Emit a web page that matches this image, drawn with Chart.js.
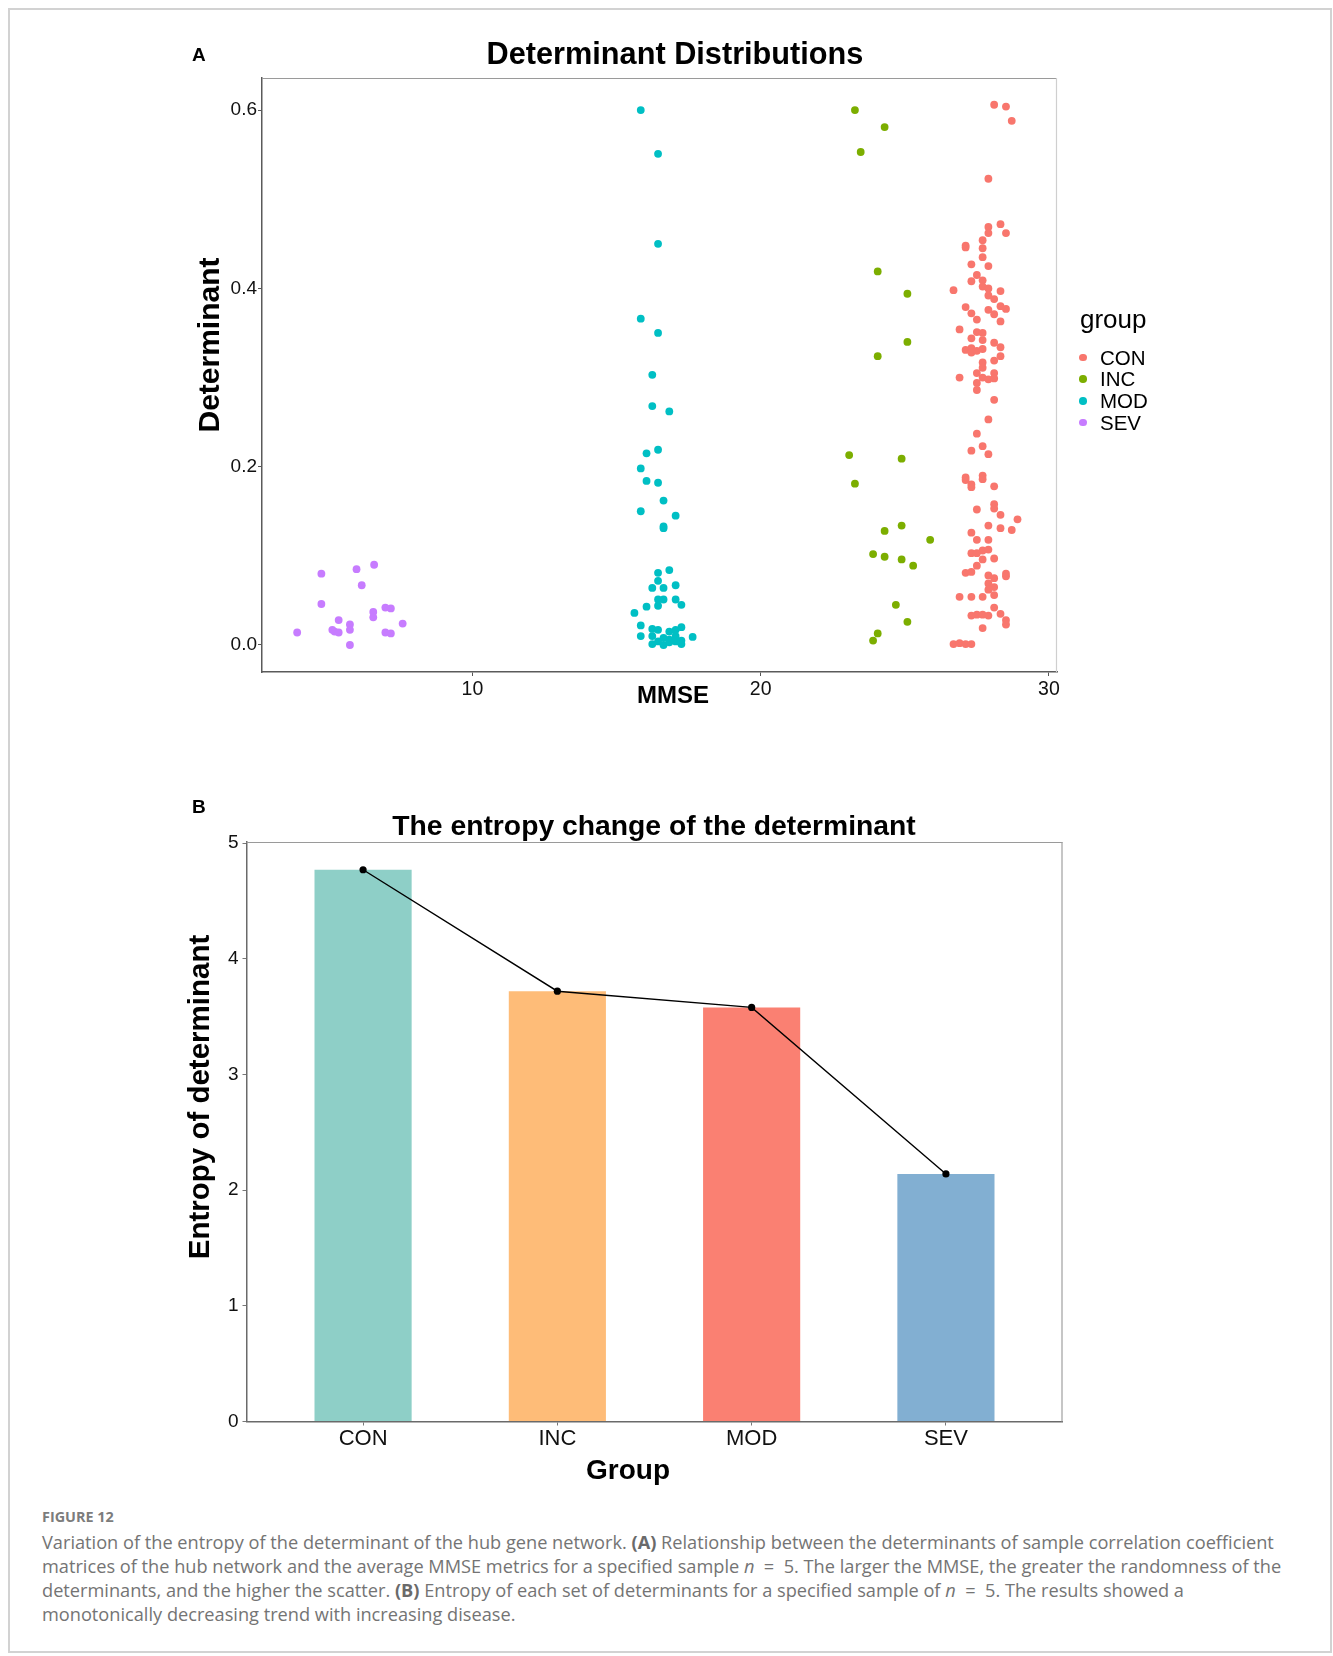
<!DOCTYPE html>
<html>
<head>
<meta charset="utf-8">
<script src="https://cdn.jsdelivr.net/npm/chart.js@4.4.1/dist/chart.umd.min.js"></script>
<style>
  html, body { margin: 0; padding: 0; background: #fff; }
  body { width: 1333px; height: 1656px; position: relative; overflow: hidden;
         font-family: 'Liberation Sans', Arial, sans-serif; color: #000; }
  .frame { position: absolute; left: 8px; top: 8px; width: 1324px; height: 1645px;
           border: 2px solid #d2d2d2; box-sizing: border-box; }
  canvas { position: absolute; left: 0; }
  .t { position: absolute; white-space: nowrap; line-height: 1; transform: translate(-50%, -50%); }
  .b { font-weight: bold; }
  .rot { transform: translate(-50%, -50%) rotate(-90deg); }
  .tag { position: absolute; font-weight: bold; font-size: 19px; line-height: 1; transform: translateY(-50%); }
  .legend { position: absolute; left: 1080px; top: 300px; }
  .legend .ttl { position: absolute; left: 0; top: 19px; font-size: 26px; line-height: 1; transform: translateY(-50%); white-space: nowrap; }
  .legend .item { position: absolute; left: 0; height: 0; }
  .legend .dot { position: absolute; left: -0.6px; top: -3.8px; width: 7.6px; height: 7.6px; border-radius: 50%; }
  .legend .lab { position: absolute; left: 20px; top: 0; font-size: 20.5px; line-height: 1; transform: translateY(-50%); white-space: nowrap; }
  .cap { position: absolute; left: 42px; white-space: nowrap; color: #747474;
         font-family: 'Open Sans', 'Noto Sans', sans-serif; line-height: 1; transform: translateY(-50%); }
  .cap.head { font-weight: bold; font-size: 14.4px; color: #7c7c7c; }
  .cap.line { font-size: 18.2px; }
  .cap b { color: #6a6a6a; }
</style>
</head>
<body>
<div class="frame"></div>

<canvas id="scatterA" width="1333" height="720" style="top:0"></canvas>
<canvas id="barB" width="1333" height="720" style="top:760px"></canvas>

<div class="tag" style="left:192px; top:54px">A</div>
<div class="t b" style="left:675px; top:54px; font-size:30.7px">Determinant Distributions</div>
<div class="t b rot" style="left:209px; top:345px; font-size:30px">Determinant</div>
<div class="t b" style="left:673px; top:695px; font-size:24px">MMSE</div>
<div class="legend" id="legendA"><div class="ttl">group</div></div>

<div class="tag" style="left:192px; top:806px">B</div>
<div class="t b" style="left:654px; top:825px; font-size:28.3px">The entropy change of the determinant</div>
<div class="t b rot" style="left:199px; top:1097px; font-size:29.5px">Entropy of determinant</div>
<div class="t b" style="left:628px; top:1470px; font-size:28px">Group</div>

<div class="cap head" style="top:1517px">FIGURE 12</div>
<div class="cap line" style="top:1542px">Variation of the entropy of the determinant of the hub gene network. <b>(A)</b> Relationship between the determinants of sample correlation coefficient</div>
<div class="cap line" style="top:1566px">matrices of the hub network and the average MMSE metrics for a specified sample <i>n</i> &nbsp;=&nbsp; 5. The larger the MMSE, the greater the randomness of the</div>
<div class="cap line" style="top:1590px">determinants, and the higher the scatter. <b>(B)</b> Entropy of each set of determinants for a specified sample of <i>n</i> &nbsp;=&nbsp; 5. The results showed a</div>
<div class="cap line" style="top:1614px">monotonically decreasing trend with increasing disease.</div>

<script>
// ---- Panel A: determinant vs. MMSE, one [MMSE, determinant] pair per sample ----
const groupNames = ['CON', 'INC', 'MOD', 'SEV'];
const groupColors = ['#F8766D', '#7CAE00', '#00BFC4', '#C77CFF'];

const conPoints = [
  [28.10,0.606],[28.51,0.604],[28.71,0.588],[27.90,0.523],[27.90,0.469],[28.32,0.472],
  [28.51,0.462],[27.90,0.462],[27.70,0.454],[27.11,0.448],[27.11,0.446],[27.70,0.445],
  [27.70,0.435],[27.31,0.427],[27.90,0.425],[27.50,0.415],[27.31,0.408],[27.70,0.409],
  [27.70,0.402],[27.90,0.400],[26.69,0.398],[28.32,0.397],[27.90,0.392],[28.10,0.388],
  [27.11,0.379],[28.32,0.380],[28.51,0.377],[27.90,0.376],[27.31,0.372],[28.10,0.371],
  [27.50,0.365],[28.32,0.363],[26.90,0.354],[27.50,0.351],[27.70,0.350],[27.31,0.344],
  [27.70,0.342],[28.10,0.339],[27.11,0.331],[27.31,0.333],[27.31,0.328],[27.50,0.330],
  [27.70,0.332],[28.32,0.334],[28.10,0.319],[27.70,0.317],[27.70,0.311],[28.32,0.324],
  [27.50,0.305],[28.10,0.305],[26.90,0.300],[27.50,0.294],[27.70,0.300],[27.90,0.298],
  [28.10,0.299],[27.50,0.286],[28.10,0.275],[27.90,0.253],[27.50,0.237],[27.70,0.223],
  [27.31,0.218],[27.90,0.214],[27.11,0.188],[27.70,0.190],[27.11,0.185],[27.31,0.180],
  [27.31,0.177],[27.70,0.186],[28.10,0.178],[28.10,0.158],[27.50,0.152],[28.10,0.153],
  [28.32,0.146],[28.91,0.141],[27.31,0.126],[27.90,0.134],[28.32,0.131],[28.71,0.129],
  [27.50,0.118],[27.90,0.118],[27.31,0.103],[27.50,0.103],[27.70,0.106],[27.90,0.107],
  [28.10,0.097],[27.70,0.096],[27.50,0.089],[27.11,0.081],[27.31,0.082],[27.90,0.078],
  [28.51,0.080],[28.51,0.077],[28.10,0.075],[27.90,0.069],[28.10,0.065],[27.90,0.062],
  [26.90,0.054],[27.31,0.054],[27.70,0.054],[28.10,0.056],[28.10,0.042],[27.50,0.034],
  [27.70,0.034],[27.90,0.033],[27.31,0.033],[28.32,0.035],[27.70,0.019],[28.51,0.028],
  [28.51,0.023],[26.69,0.001],[26.90,0.002],[27.11,0.001],[27.31,0.001]
];

const incPoints = [
  [23.27,0.600],[24.30,0.581],[23.47,0.553],[24.06,0.419],[25.09,0.394],[25.09,0.340],
  [24.06,0.324],[23.07,0.213],[24.89,0.209],[23.27,0.181],[24.30,0.128],[24.89,0.134],
  [25.88,0.118],[23.90,0.102],[24.30,0.099],[24.89,0.096],[25.29,0.089],[24.69,0.045],
  [25.09,0.026],[24.06,0.013],[23.90,0.005]
];

const modPoints = [
  [15.84,0.600],[16.44,0.551],[16.44,0.450],[15.84,0.366],[16.44,0.350],[16.24,0.303],
  [16.24,0.268],[16.83,0.262],[16.04,0.215],[16.44,0.219],[15.84,0.198],[16.04,0.184],
  [16.44,0.182],[16.63,0.162],[15.84,0.150],[17.05,0.145],[16.63,0.133],[16.63,0.131],
  [16.44,0.081],[16.83,0.084],[16.44,0.072],[16.24,0.064],[16.63,0.064],[17.05,0.067],
  [16.44,0.051],[16.63,0.051],[17.05,0.051],[16.44,0.044],[16.04,0.043],[17.25,0.045],
  [15.62,0.036],[15.84,0.022],[15.84,0.010],[16.24,0.018],[16.44,0.017],[16.24,0.010],
  [16.63,0.008],[16.83,0.015],[17.05,0.017],[17.25,0.020],[17.64,0.009],[16.24,0.001],
  [16.44,0.004],[16.63,0.000],[16.83,0.006],[17.05,0.004],[17.25,0.005],[17.05,0.010],
  [16.83,0.003],[17.25,0.001]
];

const sevPoints = [
  [3.92,0.014],[4.76,0.080],[4.76,0.046],[5.14,0.017],[5.22,0.015],[5.36,0.014],
  [5.36,0.028],[5.75,0.023],[5.75,0.017],[5.75,0.000],[5.98,0.085],[6.16,0.067],
  [6.59,0.090],[6.56,0.037],[6.56,0.031],[6.98,0.042],[7.17,0.041],[6.98,0.014],
  [7.17,0.013],[7.58,0.024]
];

const mmseTicks = [10, 20, 30];
const determinantTicks = [0, 0.2, 0.4, 0.6];

// ---- Panel B: entropy of the determinant per group ----
const entropyGroups = ['CON', 'INC', 'MOD', 'SEV'];
const entropyValues = [4.77, 3.72, 3.58, 2.14];
const entropyColors = ['#8ECFC7', '#FEBC78', '#FA8072', '#82AFD2'];
const entropyTicks = [0, 1, 2, 3, 4, 5];

Chart.defaults.font.family = "'Liberation Sans', Arial, sans-serif";
Chart.defaults.color = '#111';

// Top and right edges of the panel box
const panelFrame = {
  id: 'panelFrame',
  afterDraw(chart, args, opts) {
    const { ctx, chartArea: a } = chart;
    ctx.save();
    ctx.lineWidth = opts.width;
    ctx.strokeStyle = opts.topColor;
    ctx.beginPath();
    ctx.moveTo(a.left, a.top + 0.5);
    ctx.lineTo(a.right, a.top + 0.5);
    ctx.stroke();
    ctx.strokeStyle = opts.rightColor;
    ctx.beginPath();
    ctx.moveTo(a.right - 0.5, a.top);
    ctx.lineTo(a.right - 0.5, a.bottom);
    ctx.stroke();
    ctx.restore();
  }
};

const toXY = pts => pts.map(([x, y]) => ({ x, y }));
const pointSets = [conPoints, incPoints, modPoints, sevPoints];

new Chart(document.getElementById('scatterA'), {
  type: 'scatter',
  data: {
    datasets: groupNames.map((name, i) => ({
      label: name,
      data: toXY(pointSets[i]),
      backgroundColor: groupColors[i],
      borderWidth: 0,
      pointRadius: 3.9,
      pointHoverRadius: 3.9
    }))
  },
  options: {
    responsive: false,
    animation: false,
    devicePixelRatio: 1,
    layout: { padding: { left: 202, right: 276, top: 78, bottom: 8 } },
    plugins: {
      legend: { display: false },
      tooltip: { enabled: false },
      panelFrame: { width: 1.2, topColor: '#9a9a9a', rightColor: '#cfcfcf' }
    },
    scales: {
      x: {
        type: 'linear',
        min: 2.70, max: 30.28,
        afterFit(s) { s.height = 40; },
        afterBuildTicks(s) { s.ticks = mmseTicks.map(v => ({ value: v })); },
        grid: { display: true, offset: false, drawOnChartArea: false, drawTicks: true, tickLength: 4, color: '#555' },
        border: { display: true, color: '#5a5a5a', width: 1.5 },
        ticks: { font: { size: 19.5 }, color: '#111', padding: 2, maxRotation: 0,
                 callback: v => String(v) }
      },
      y: {
        type: 'linear',
        min: -0.0303, max: 0.636,
        afterFit(s) { s.width = 60; },
        afterBuildTicks(s) { s.ticks = determinantTicks.map(v => ({ value: v })); },
        grid: { display: true, drawOnChartArea: false, drawTicks: true, tickLength: 4, color: '#555' },
        border: { display: true, color: '#5a5a5a', width: 1.5 },
        ticks: { font: { size: 19 }, color: '#111', padding: 1,
                 callback: v => Number(v).toFixed(1) }
      }
    }
  },
  plugins: [panelFrame]
});

// Legend for panel A, built from the group names and colours
const legendBox = document.getElementById('legendA');
groupNames.forEach((name, i) => {
  const item = document.createElement('div');
  item.className = 'item';
  item.style.top = (57.5 + i * 21.7) + 'px';
  item.innerHTML = '<span class="dot" style="background:' + groupColors[i] + '"></span>' +
                   '<span class="lab">' + name + '</span>';
  legendBox.appendChild(item);
});

const entropyXY = entropyValues.map((v, i) => ({ x: i, y: v }));

new Chart(document.getElementById('barB'), {
  type: 'bar',
  data: {
    datasets: [
      {
        type: 'line',
        label: 'entropy',
        data: entropyXY,
        borderColor: '#000',
        borderWidth: 1.4,
        backgroundColor: '#000',
        pointRadius: 3.6,
        pointHoverRadius: 3.6,
        pointBorderWidth: 0,
        tension: 0,
        order: 0
      },
      {
        type: 'bar',
        label: 'entropy bars',
        data: entropyXY,
        backgroundColor: entropyColors,
        borderWidth: 0,
        categoryPercentage: 1.0,
        barPercentage: 0.5,
        order: 1
      }
    ]
  },
  options: {
    responsive: false,
    animation: false,
    devicePixelRatio: 1,
    layout: { padding: { left: 186.5, right: 270.5, top: 82, bottom: 14.5 } },
    plugins: {
      legend: { display: false },
      tooltip: { enabled: false },
      panelFrame: { width: 1.2, topColor: '#9a9a9a', rightColor: '#a0a0a0' }
    },
    scales: {
      x: {
        type: 'linear',
        min: -0.6, max: 3.6,
        offset: false,
        afterFit(s) { s.height = 44; },
        afterBuildTicks(s) { s.ticks = entropyGroups.map((g, i) => ({ value: i })); },
        grid: { display: true, offset: false, drawOnChartArea: false, drawTicks: true, tickLength: 4, color: '#777' },
        border: { display: true, color: '#6a6a6a', width: 1.5 },
        ticks: { font: { size: 22 }, color: '#111', padding: 0, maxRotation: 0,
                 callback: v => entropyGroups[Math.round(v)] }
      },
      y: {
        type: 'linear',
        min: 0, max: 5.01,
        afterFit(s) { s.width = 60; },
        afterBuildTicks(s) { s.ticks = entropyTicks.map(v => ({ value: v })); },
        grid: { display: true, drawOnChartArea: false, drawTicks: true, tickLength: 4, color: '#777' },
        border: { display: true, color: '#6a6a6a', width: 1.5 },
        ticks: { font: { size: 19 }, color: '#111', padding: 4,
                 callback: v => String(v) }
      }
    }
  },
  plugins: [panelFrame]
});
</script>
</body>
</html>
